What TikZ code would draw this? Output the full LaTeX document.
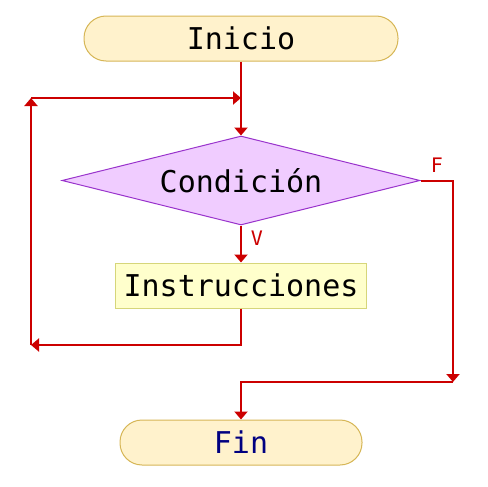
\documentclass[tikz,border=0pt]{standalone}
\usepackage{fontspec}
\newfontfamily\monofont{DejaVu Sans Mono}
\usetikzlibrary{positioning}
\usetikzlibrary{arrows.meta}
\usetikzlibrary{shapes.geometric}
\definecolor{rojo}{RGB}{204,0,0}
\definecolor{marino}{RGB}{0,0,128}
\tikzset{>={Triangle[width=6.5pt,length=4pt]}}
\tikzstyle{termnode}=[draw={rgb,255:red,214;green,182;blue,86},line width=0.5pt,fill={rgb,255:red,255;green,242;blue,204},rounded corners=11pt,minimum width=157pt,minimum height=22.5pt,font=\monofont\fontsize{15}{18}\selectfont]
\tikzstyle{condnode}=[draw={rgb,255:red,153;green,51;blue,204},line width=0.5pt,fill={rgb,255:red,240;green,204;blue,255},shape=diamond,aspect=4,inner sep=0pt,minimum width=179pt,minimum height=44.5pt,font=\monofont\fontsize{15}{18}\selectfont]
\tikzstyle{procnode}=[draw={rgb,255:red,214;green,214;blue,122},line width=0.5pt,fill={rgb,255:red,255;green,255;blue,204},minimum width=125.5pt,minimum height=22.5pt,inner sep=0pt,font=\monofont\fontsize{15}{18}\selectfont]
\tikzstyle{flecha}=[->,line width=1pt,color=rojo]
\tikzstyle{etiq}=[text=rojo,inner sep=0pt,font=\monofont\fontsize{10}{12}\selectfont]

\begin{document}
\begin{tikzpicture}[x=0.5pt,y=-0.5pt]
	\useasboundingbox (0,0) rectangle (488,487);
	
	% Nodos
	\node[termnode] (inicio) at (241, 38.5) {Inicio};
	\node[condnode] (cond) at (241, 180.5) {Condición};
	\node[procnode] (instr) at (241, 285.5) {Instrucciones};
	\node[termnode, minimum width=121pt, text=marino] (fin) at (241, 442.5) {Fin};
	
	% Puntos de paso
	\coordinate (lazoab) at (31, 345);
	\coordinate (lazoar) at (31, 98);
	\coordinate (union) at (241, 98);
	\coordinate (falso) at (453, 382);
	
	% Flechas
	\draw[flecha] (inicio) -- (cond);
	\draw[flecha] (cond) -- (instr);
	\draw[flecha] (instr.south) |- (lazoab);
	\draw[flecha] (lazoab) -- (lazoar);
	\draw[flecha] (lazoar) -- (union);
	\draw[flecha] (cond.east) -| (falso);
	\draw[flecha] (falso) -| (fin.north);
	
	% Etiquetas
	\node[etiq] (vlabel) at (257, 238) {V};
	\node[etiq] (flabel) at (437, 165) {F};
	
\end{tikzpicture}
\end{document}
